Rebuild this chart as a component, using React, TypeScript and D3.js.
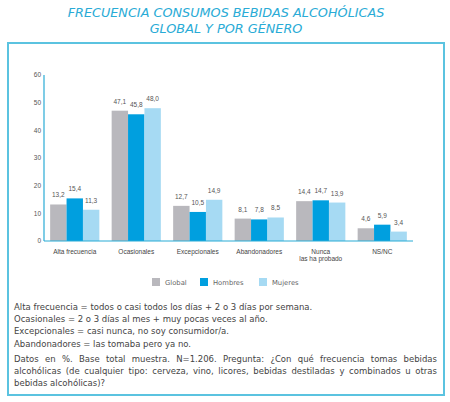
import React, { useEffect, useRef } from 'react';
import * as d3 from 'd3';

// Categories (second line of a label goes after the "|")
const categories = [
  'Alta frecuencia',
  'Ocasionales',
  'Excepcionales',
  'Abandonadores',
  'Nunca|las ha probado',
  'NS/NC',
];
const seriesNames = ['Global', 'Hombres', 'Mujeres'];
const globalValues = [13.2, 47.1, 12.7, 8.1, 14.4, 4.6];
const hombresValues = [15.4, 45.8, 10.5, 7.8, 14.7, 5.9];
const mujeresValues = [11.3, 48.0, 14.9, 8.5, 13.9, 3.4];
const yTicks = [0, 10, 20, 30, 40, 50, 60];

const titleLines = ['FRECUENCIA CONSUMOS BEBIDAS ALCOHÓLICAS', 'GLOBAL Y POR GÉNERO'];
const definitions = [
  'Alta frecuencia = todos o casi todos los días + 2 o 3 días por semana.',
  'Ocasionales = 2 o 3 días al mes + muy pocas veces al año.',
  'Excepcionales = casi nunca, no soy consumidor/a.',
  'Abandonadores = las tomaba pero ya no.',
];
const noteLines = [
  'Datos en %. Base total muestra. N=1.206. Pregunta: ¿Con qué frecuencia tomas bebidas',
  'alcohólicas (de cualquier tipo: cerveza, vino, licores, bebidas destiladas y combinados u otras',
  'bebidas alcohólicas)?',
];

const colors = ['#b9b8bd', '#009fdf', '#a6daf3'];
const cyan = '#29abd6';

const App = () => {
  const svgRef = useRef<SVGSVGElement>(null);

  useEffect(() => {
    const svg = d3.select(svgRef.current);
    svg.selectAll('*').remove();

    const sans = '"DejaVu Sans", "Open Sans", sans-serif';
    const chartFont = '"Liberation Sans", Arial, sans-serif';

    // Title
    svg
      .selectAll('.title')
      .data(titleLines)
      .enter()
      .append('text')
      .attr('x', 226)
      .attr('y', (_, i) => 16.5 + i * 16)
      .attr('text-anchor', 'middle')
      .style('font-family', sans)
      .style('font-style', 'italic')
      .style('font-size', '12.8px')
      .style('fill', cyan)
      .text(d => d);

    // Frame
    svg
      .append('rect')
      .attr('x', 8)
      .attr('y', 43)
      .attr('width', 436)
      .attr('height', 352)
      .attr('fill', 'none')
      .attr('stroke', '#5bc3e0')
      .attr('stroke-width', 2);

    // Scales
    const x0 = d3
      .scaleBand()
      .domain(categories)
      .range([44, 413])
      .paddingInner(0.2)
      .paddingOuter(0.1);
    const x1 = d3.scaleBand().domain(seriesNames).range([0, x0.bandwidth()]);
    const y = d3.scaleLinear().domain([0, 60]).range([241, 75]);

    const rows = categories.map((c, i) => ({
      category: c,
      values: [globalValues[i], hombresValues[i], mujeresValues[i]],
    }));

    // Y tick labels
    svg
      .selectAll('.ytick')
      .data(yTicks)
      .enter()
      .append('text')
      .attr('x', 41)
      .attr('y', d => y(d) + 2.3)
      .attr('text-anchor', 'end')
      .style('font-family', chartFont)
      .style('font-size', '6.5px')
      .style('fill', '#555')
      .text(d => d);

    // Bars
    const groups = svg
      .selectAll('.group')
      .data(rows)
      .enter()
      .append('g')
      .attr('transform', d => `translate(${x0(d.category)},0)`);

    groups
      .selectAll('rect')
      .data(d => d.values)
      .enter()
      .append('rect')
      .attr('x', (_, i) => x1(seriesNames[i]) as number)
      .attr('y', d => y(d))
      .attr('width', x1.bandwidth())
      .attr('height', d => y(0) - y(d))
      .attr('fill', (_, i) => colors[i]);

    groups
      .selectAll('.val')
      .data(d => d.values)
      .enter()
      .append('text')
      .attr('x', (_, i) => (x1(seriesNames[i]) as number) + x1.bandwidth() / 2)
      .attr('y', d => y(d) - 7)
      .attr('text-anchor', 'middle')
      .style('font-family', chartFont)
      .style('font-size', '6.5px')
      .style('fill', '#555')
      .text(d => d3.format('.1f')(d).replace('.', ','));

    // Axis lines
    svg
      .append('line')
      .attr('x1', 44)
      .attr('x2', 44)
      .attr('y1', y(60))
      .attr('y2', y(0))
      .attr('stroke', cyan)
      .attr('stroke-width', 1.2);
    svg
      .append('line')
      .attr('x1', 44)
      .attr('x2', 413)
      .attr('y1', y(0))
      .attr('y2', y(0))
      .attr('stroke', cyan)
      .attr('stroke-width', 1.2);

    // Category labels
    const catLabels = svg
      .selectAll('.cat')
      .data(categories)
      .enter()
      .append('text')
      .attr('text-anchor', 'middle')
      .style('font-family', chartFont)
      .style('font-size', '6.5px')
      .style('fill', '#444');
    catLabels.each(function (d) {
      const cx = (x0(d) as number) + x0.bandwidth() / 2;
      d3.select(this)
        .selectAll('tspan')
        .data(d.split('|'))
        .enter()
        .append('tspan')
        .attr('x', cx)
        .attr('y', (_, i) => 253.5 + i * 7.5)
        .text(t => t);
    });

    // Legend
    const legendX = [152, 200, 259];
    seriesNames.forEach((name, i) => {
      svg
        .append('rect')
        .attr('x', legendX[i])
        .attr('y', 278)
        .attr('width', 8)
        .attr('height', 8)
        .attr('fill', colors[i]);
      svg
        .append('text')
        .attr('x', legendX[i] + 13)
        .attr('y', 285)
        .style('font-family', sans)
        .style('font-size', '6.8px')
        .style('fill', '#666')
        .text(name);
    });

    // Definitions
    svg
      .selectAll('.def')
      .data(definitions)
      .enter()
      .append('text')
      .attr('x', 14)
      .attr('y', (_, i) => 310 + i * 12.2)
      .style('font-family', sans)
      .style('font-size', '8.5px')
      .style('fill', '#444')
      .text(d => d);

    // Note paragraph, justified word by word
    const left = 14;
    const right = 437;
    noteLines.forEach((line, li) => {
      const words = line.split(' ');
      const baseY = 362 + li * 12;
      const g = svg.append('g');
      const nodes = words.map(w =>
        g
          .append('text')
          .attr('y', baseY)
          .style('font-family', sans)
          .style('font-size', '8.5px')
          .style('fill', '#444')
          .text(w)
      );
      const widths = nodes.map(n => (n.node() as SVGTextElement).getComputedTextLength());
      const total = d3.sum(widths);
      const justify = li < noteLines.length - 1;
      const gap = justify ? (right - left - total) / (words.length - 1) : 2.7;
      let cx = left;
      nodes.forEach((n, i) => {
        n.attr('x', cx);
        cx += widths[i] + gap;
      });
    });
  }, []);

  return (
    <svg
      ref={svgRef}
      width={450}
      height={402}
      style={{ position: 'absolute', left: 0, top: 0, background: '#fff' }}
    />
  );
};

export default App;
